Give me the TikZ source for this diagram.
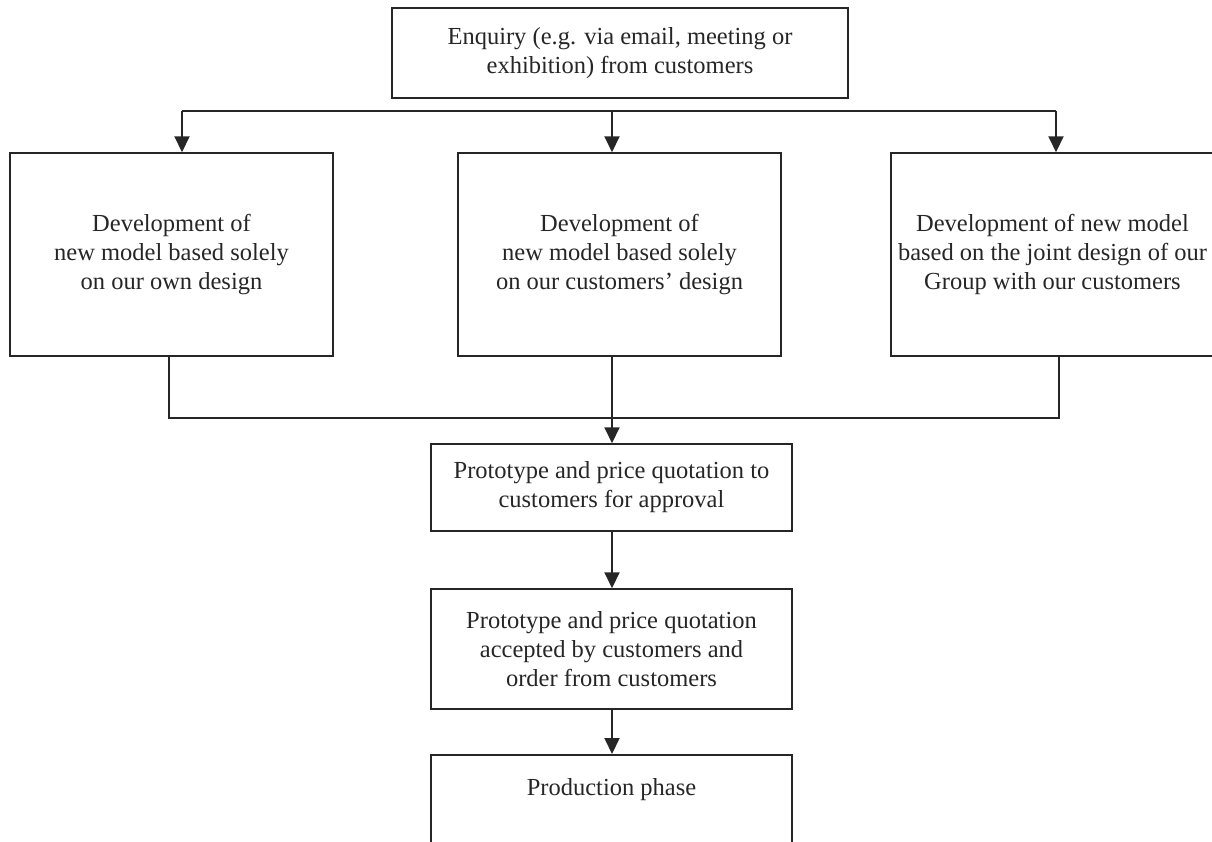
\documentclass[tikz,border=0pt]{standalone}
\usepackage{fontspec}
\setmainfont{Liberation Serif}
\usetikzlibrary{arrows.meta}
\begin{document}
\begin{tikzpicture}[x=1pt,y=-1pt,
  box/.style={draw=black!85,line width=1.5pt,align=center,inner sep=0pt,
    font=\fontsize{24.5}{29}\selectfont,text=black!85},
  arr/.style={draw=black!85,line width=2pt,-{Triangle[length=16pt,width=15pt]}},
  conn/.style={draw=black!85,line width=1.5pt}]
\useasboundingbox (0,0) rectangle (1212,841);
\node[box,minimum width=456pt,minimum height=90pt] (top) at (620,53)
  {Enquiry (e.g. via email, meeting or\\exhibition) from customers};
\node[box,minimum width=323pt,minimum height=203pt] (left) at (171.5,254.5)
  {Development of\\new model based solely\\on our own design};
\node[box,minimum width=323pt,minimum height=203pt] (mid) at (619.5,254.5)
  {Development of\\new model based solely\\on our customers' design};
\node[box,minimum width=323pt,minimum height=203pt] (right) at (1052.5,254.5)
  {Development of new model\\based on the joint design of our\\Group with our customers};
\node[box,minimum width=361pt,minimum height=87pt] (b4) at (611.5,487.5)
  {Prototype and price quotation to\\customers for approval};
\node[box,minimum width=361pt,minimum height=120pt] (b5) at (611.5,649)
  {Prototype and price quotation\\accepted by customers and\\order from customers};
\node[box,minimum width=361pt,anchor=north,inner ysep=24pt,text height=17pt,text depth=40pt] (b6) at (611.5,754)
  {Production phase};
\coordinate (t1) at (182,111);
\coordinate (t2) at (612,111);
\coordinate (t3) at (1056,111);
\coordinate (lb) at (169,418);
\coordinate (rb) at (1059,418);
\coordinate (mx) at (612,0);
\draw[conn,line width=2pt] (t1) -- (t3);
\draw[arr] (t1) -- (t1 |- left.north);
\draw[arr] (t2) -- (t2 |- mid.north);
\draw[arr] (t3) -- (t3 |- right.north);
\draw[conn] (left.south -| lb) -- (lb) -- (rb) -- (right.south -| rb);
\draw[arr] (mid.south -| mx) -- (b4.north -| mx);
\draw[arr] (b4.south -| mx) -- (b5.north -| mx);
\draw[arr] (b5.south -| mx) -- (b6.north -| mx);
\end{tikzpicture}
\end{document}
